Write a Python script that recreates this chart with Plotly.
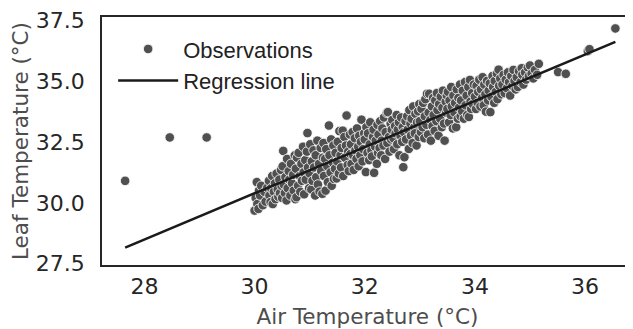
import plotly.graph_objects as go

# ---- data ----
air_temp = [
    30.00,30.02,30.04,30.05,30.07,30.08,30.10,30.12,30.15,30.18,30.20,30.23,
    30.26,30.27,30.29,30.30,30.32,30.33,30.35,30.37,30.38,30.40,30.42,30.43,30.45,30.46,30.48,30.49,
    30.50,30.51,30.52,30.53,30.55,30.56,30.58,30.59,30.60,30.62,30.63,30.65,30.66,30.68,30.70,30.71,30.73,30.74,
    30.75,30.76,30.77,30.79,30.80,30.82,30.83,30.85,30.86,30.88,30.89,30.90,30.92,30.93,30.95,30.96,30.97,30.99,
    31.00,31.01,31.03,31.04,31.05,31.07,31.08,31.10,31.11,31.12,31.14,31.15,31.17,31.18,31.20,31.21,31.23,31.24,
    31.25,31.26,31.28,31.29,31.30,31.32,31.33,31.35,31.36,31.38,31.39,31.40,31.42,31.43,31.44,31.46,31.47,31.49,
    31.50,31.51,31.53,31.54,31.56,31.57,31.58,31.60,31.61,31.63,31.64,31.66,31.67,31.69,31.70,31.71,31.73,31.74,
    31.75,31.76,31.78,31.79,31.80,31.82,31.83,31.85,31.86,31.88,31.89,31.90,31.92,31.93,31.94,31.96,31.97,31.99,
    32.00,32.02,32.03,32.05,32.06,32.08,32.09,32.10,32.12,32.13,32.15,32.16,32.17,32.19,32.20,32.22,32.23,32.24,
    32.25,32.27,32.28,32.30,32.31,32.32,32.34,32.35,32.37,32.38,32.40,32.41,32.42,32.44,32.45,32.47,32.48,32.49,
    32.50,32.52,32.53,32.55,32.56,32.58,32.59,32.60,32.62,32.63,32.65,32.66,32.68,32.69,32.70,32.71,32.72,32.74,
    32.75,32.77,32.78,32.80,32.81,32.83,32.84,32.85,32.87,32.88,32.90,32.91,32.92,32.94,32.95,32.97,32.98,32.99,
    33.00,33.02,33.03,33.05,33.06,33.08,33.09,33.10,33.12,33.13,33.15,33.16,33.17,33.19,33.20,33.22,33.23,33.24,
    33.25,33.27,33.28,33.30,33.31,33.32,33.34,33.35,33.37,33.38,33.40,33.41,33.42,33.44,33.45,33.47,33.48,33.49,
    33.50,33.51,33.53,33.54,33.56,33.57,33.58,33.60,33.61,33.63,33.64,33.66,33.67,33.69,33.70,33.71,33.73,33.74,
    33.75,33.77,33.78,33.80,33.82,33.83,33.85,33.86,33.88,33.89,33.91,33.92,33.93,33.95,33.96,33.98,
    34.00,34.02,34.03,34.05,34.06,34.08,34.10,34.11,34.13,34.14,34.16,34.17,34.19,34.20,34.22,34.24,
    34.25,34.27,34.28,34.30,34.32,34.33,34.35,34.36,34.38,34.40,34.41,34.43,34.44,34.46,34.48,
    34.50,34.52,34.54,34.56,34.58,34.60,34.62,34.64,34.66,34.68,34.70,34.72,34.74,
    34.76,34.78,34.80,34.83,34.85,34.86,34.88,34.91,34.93,34.96,34.98,
    35.00,35.03,35.06,35.09,35.13,35.16,
    27.65,28.46,29.13,35.51,35.65,36.05,36.08,36.55,
]
leaf_temp = [
    29.68,30.20,30.85,29.95,29.75,30.50,30.30,30.70,29.90,30.45,30.05,30.62,
    30.90,30.30,30.03,30.60,31.10,29.95,30.45,30.80,30.15,31.20,30.55,30.25,30.95,30.40,31.35,30.70,
    30.20,31.50,32.13,30.75,30.40,31.05,30.10,31.80,30.60,31.30,30.95,30.30,31.60,30.80,31.15,30.50,31.95,30.15,
    31.40,30.23,31.85,30.70,32.05,31.10,30.45,31.60,30.90,32.30,31.25,30.35,31.75,30.95,32.10,32.86,31.45,30.60,
    31.20,32.40,30.55,31.70,30.90,32.15,31.45,30.30,31.95,31.05,32.55,30.75,31.60,30.46,32.25,31.30,30.37,31.85,
    32.45,31.10,31.80,30.50,32.20,31.50,30.85,33.17,31.95,31.25,32.60,30.70,31.65,32.35,30.98,31.40,32.05,31.00,
    31.70,32.50,31.20,32.94,31.95,31.45,32.25,32.96,31.10,32.70,31.85,32.35,33.58,31.55,32.10,31.30,32.80,32.00,
    32.40,31.60,32.90,31.95,31.35,32.65,32.15,31.80,33.05,32.30,31.50,32.75,31.95,32.50,33.41,31.70,32.20,32.85,
    32.60,31.26,33.10,32.05,32.85,31.75,32.40,33.30,32.15,31.90,32.70,33.00,31.23,32.30,32.55,31.60,33.20,32.05,
    32.80,32.25,33.35,31.95,32.55,33.05,32.35,33.50,31.80,32.90,33.69,32.45,33.72,32.70,32.10,33.25,32.60,33.00,
    33.40,32.65,32.20,33.15,32.85,33.60,32.40,33.00,33.30,31.95,32.75,33.50,32.50,33.10,31.46,32.90,31.87,33.35,
    32.60,33.55,33.00,32.21,33.80,33.25,32.75,33.45,32.45,33.95,33.10,32.85,33.65,32.35,33.30,33.75,32.70,34.05,
    33.35,32.90,33.85,33.10,34.10,32.65,33.55,34.25,33.20,34.47,32.80,33.70,34.47,33.40,32.55,33.95,33.15,34.30,
    33.60,32.95,34.20,33.35,34.50,33.80,32.75,34.05,33.45,34.35,33.10,33.90,34.60,33.25,32.55,34.15,33.70,34.40,
    33.85,34.55,33.30,34.20,33.60,34.75,33.95,33.05,34.40,33.70,34.10,33.10,34.65,33.45,34.30,33.90,34.85,33.55,
    34.20,33.75,34.60,33.45,34.95,34.00,34.40,33.60,34.75,33.52,35.04,34.15,33.85,34.50,34.05,34.85,
    34.35,33.85,34.80,34.10,34.55,35.05,33.95,34.65,34.30,35.15,34.00,34.85,34.45,33.74,35.00,34.20,
    34.60,34.90,33.72,34.35,35.20,34.75,34.10,35.00,34.55,35.30,34.25,35.46,34.80,35.10,34.45,
    34.85,35.25,34.50,35.05,34.70,35.35,34.95,34.40,35.20,34.80,35.45,35.00,34.65,
    35.15,34.75,35.40,34.95,35.52,35.25,34.85,35.35,35.05,35.55,35.20,
    35.63,35.30,35.10,35.45,35.25,35.70,
    30.90,32.68,32.68,35.36,35.29,36.22,36.30,37.15,
]
reg_slope = 0.948
reg_intercept = 1.95

x_ticks = [28, 30, 32, 34, 36]
y_ticks = [27.5, 30.0, 32.5, 35.0, 37.5]

line_x = [min(air_temp), max(air_temp)]
line_y = [reg_slope * v + reg_intercept for v in line_x]

fig = go.Figure()
fig.add_trace(go.Scatter(
    x=air_temp, y=leaf_temp, mode="markers", name="Observations",
    marker=dict(size=9.5, color="#505050", line=dict(color="white", width=0.8)),
))
fig.add_trace(go.Scatter(
    x=line_x, y=line_y, mode="lines", name="Regression line",
    line=dict(color="#1a1a1a", width=2.5),
))

axis_font = dict(family="DejaVu Sans", size=22, color="#262626")
title_font = dict(family="DejaVu Sans", size=21.5, color="#4d4d4d")

fig.update_layout(
    width=625, height=321,
    margin=dict(l=94, r=0, t=9, b=64),
    plot_bgcolor="white", paper_bgcolor="white",
    showlegend=True,
    legend=dict(
        x=0.021, y=0.955, xanchor="left", yanchor="top",
        bgcolor="rgba(0,0,0,0)", tracegroupgap=0, itemwidth=60,
        font=dict(family="Liberation Sans", size=22, color="#222222"),
    ),
    xaxis=dict(
        range=[27.23, 36.87], tickvals=x_ticks, ticktext=[str(v) for v in x_ticks],
        showline=True, linecolor="#262626", linewidth=1.8, mirror=True,
        showgrid=False, zeroline=False, ticks="", ticklabelstandoff=1,
        tickfont=axis_font, automargin=False,
        title=dict(text="Air Temperature (°C)", font=title_font, standoff=11),
    ),
    yaxis=dict(
        range=[27.45, 37.62], tickvals=y_ticks, ticktext=[f"{v:.1f}" for v in y_ticks],
        showline=True, linecolor="#262626", linewidth=1.8, mirror=False,
        showgrid=False, zeroline=False, ticks="", ticklabelstandoff=11,
        tickfont=axis_font, automargin=False, ticklabeloverflow="allow",
        title=dict(text="Leaf Temperature (°C)", font=title_font, standoff=6),
    ),
)

fig.write_html("out.html")
